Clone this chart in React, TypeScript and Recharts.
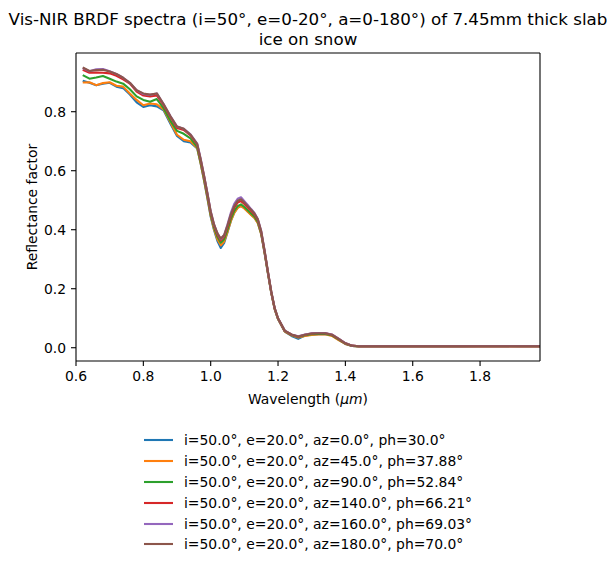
import { LineChart, Line, XAxis, YAxis, ReferenceLine } from "recharts";

const FONT = "'DejaVu Sans', sans-serif";

// wavelength in micrometres (finer sampling around the 1.03 um dip)
const wavelengths = [
  0.62, 0.64, 0.66, 0.68, 0.7, 0.72, 0.74, 0.76, 0.78, 0.8, 0.82, 0.84, 0.86, 0.88, 0.9, 0.92, 0.94,
  0.96, 0.97, 0.98, 0.99, 1.0, 1.01, 1.02, 1.03, 1.04, 1.05, 1.06, 1.07, 1.08, 1.09, 1.1, 1.11, 1.12,
  1.13, 1.14, 1.15, 1.16, 1.17, 1.18, 1.19, 1.2,
  1.22, 1.24, 1.26, 1.28, 1.3, 1.32, 1.34, 1.36, 1.38, 1.4, 1.42, 1.44,
  1.5, 1.56, 1.62, 1.68, 1.74, 1.8, 1.86, 1.92, 1.98,
];

const az0 = [
  0.905, 0.898, 0.89, 0.895, 0.898, 0.885, 0.88, 0.858, 0.832, 0.816, 0.822, 0.818, 0.805, 0.76, 0.718, 0.7, 0.696,
  0.675, 0.625, 0.568, 0.508, 0.444, 0.398, 0.362, 0.338, 0.355, 0.392, 0.43, 0.458, 0.475, 0.481, 0.473, 0.462, 0.451,
  0.441, 0.423, 0.386, 0.322, 0.252, 0.185, 0.131, 0.097,
  0.055, 0.04, 0.03, 0.041, 0.045, 0.046, 0.047, 0.042, 0.027, 0.013, 0.006, 0.004,
  0.004, 0.004, 0.004, 0.004, 0.004, 0.005, 0.006, 0.005, 0.005,
];
const az45 = [
  0.899, 0.9, 0.89, 0.897, 0.9, 0.888, 0.885, 0.862, 0.84, 0.822, 0.828, 0.825, 0.808, 0.765, 0.722, 0.705, 0.7,
  0.677, 0.626, 0.57, 0.51, 0.447, 0.402, 0.368, 0.347, 0.36, 0.393, 0.43, 0.457, 0.474, 0.48, 0.472, 0.461, 0.45,
  0.44, 0.422, 0.385, 0.322, 0.252, 0.185, 0.131, 0.097,
  0.055, 0.042, 0.035, 0.04, 0.043, 0.045, 0.046, 0.04, 0.026, 0.013, 0.006, 0.004,
  0.004, 0.004, 0.004, 0.004, 0.004, 0.004, 0.004, 0.004, 0.004,
];
const az90 = [
  0.924, 0.912, 0.916, 0.921, 0.912, 0.902, 0.895, 0.876, 0.852, 0.84, 0.834, 0.843, 0.812, 0.77, 0.735, 0.725, 0.71,
  0.68, 0.63, 0.575, 0.515, 0.452, 0.408, 0.376, 0.356, 0.368, 0.4, 0.437, 0.464, 0.48, 0.486, 0.477, 0.466, 0.455,
  0.444, 0.426, 0.388, 0.324, 0.254, 0.187, 0.132, 0.098,
  0.056, 0.043, 0.036, 0.042, 0.046, 0.047, 0.047, 0.042, 0.028, 0.014, 0.006, 0.005,
  0.005, 0.005, 0.005, 0.005, 0.005, 0.005, 0.005, 0.005, 0.005,
];
const az140 = [
  0.942, 0.932, 0.933, 0.932, 0.93, 0.922, 0.91, 0.895, 0.868, 0.855, 0.852, 0.855, 0.822, 0.782, 0.745, 0.738, 0.72,
  0.688, 0.637, 0.582, 0.522, 0.458, 0.414, 0.383, 0.364, 0.377, 0.41, 0.447, 0.475, 0.492, 0.497, 0.487, 0.475, 0.463,
  0.451, 0.432, 0.392, 0.327, 0.256, 0.188, 0.133, 0.099,
  0.057, 0.044, 0.037, 0.044, 0.048, 0.05, 0.049, 0.044, 0.03, 0.015, 0.007, 0.005,
  0.005, 0.005, 0.005, 0.005, 0.005, 0.005, 0.005, 0.005, 0.005,
];
const az160 = [
  0.948, 0.937, 0.944, 0.945, 0.937, 0.928, 0.915, 0.898, 0.873, 0.86, 0.857, 0.862, 0.826, 0.786, 0.75, 0.742, 0.723,
  0.692, 0.642, 0.586, 0.526, 0.463, 0.418, 0.388, 0.368, 0.382, 0.418, 0.458, 0.488, 0.505, 0.51, 0.497, 0.484, 0.47,
  0.457, 0.436, 0.396, 0.33, 0.258, 0.19, 0.135, 0.1,
  0.058, 0.045, 0.039, 0.045, 0.049, 0.05, 0.05, 0.045, 0.031, 0.016, 0.007, 0.005,
  0.005, 0.005, 0.005, 0.005, 0.005, 0.005, 0.005, 0.005, 0.005,
];
const az180 = [
  0.95, 0.938, 0.941, 0.942, 0.936, 0.928, 0.915, 0.898, 0.873, 0.862, 0.858, 0.862, 0.826, 0.785, 0.75, 0.742, 0.722,
  0.69, 0.64, 0.585, 0.525, 0.462, 0.418, 0.388, 0.37, 0.382, 0.415, 0.452, 0.48, 0.498, 0.503, 0.492, 0.48, 0.468,
  0.455, 0.435, 0.395, 0.33, 0.258, 0.19, 0.135, 0.1,
  0.058, 0.045, 0.038, 0.044, 0.048, 0.049, 0.049, 0.044, 0.03, 0.015, 0.007, 0.005,
  0.005, 0.005, 0.005, 0.005, 0.005, 0.005, 0.005, 0.005, 0.005,
];

const seriesNames = [
  "i=50.0°, e=20.0°, az=0.0°, ph=30.0°",
  "i=50.0°, e=20.0°, az=45.0°, ph=37.88°",
  "i=50.0°, e=20.0°, az=90.0°, ph=52.84°",
  "i=50.0°, e=20.0°, az=140.0°, ph=66.21°",
  "i=50.0°, e=20.0°, az=160.0°, ph=69.03°",
  "i=50.0°, e=20.0°, az=180.0°, ph=70.0°",
];
const seriesValues = [az0, az45, az90, az140, az160, az180];
const colors = ["#1f77b4", "#ff7f0e", "#2ca02c", "#d62728", "#9467bd", "#8c564b"];

const xTicks = [0.6, 0.8, 1.0, 1.2, 1.4, 1.6, 1.8];
const yTicks = [0, 0.2, 0.4, 0.6, 0.8];
const xDomain = [0.6, 1.978];
const yDomain = [-0.045, 0.999];

const data = wavelengths.map((wl, i) => {
  const row: Record<string, number> = { wl };
  seriesValues.forEach((s, k) => {
    row["s" + k] = s[i];
  });
  return row;
});

const tickStyle = { fontSize: 13.9, fill: "#000", fontFamily: FONT };
const axisStroke = { stroke: "#000", strokeWidth: 1.1 };

const XLabel = (props: any) => {
  const vb = props.viewBox || {};
  return (
    <text
      x={vb.x + vb.width / 2}
      y={vb.y + vb.height - 7}
      textAnchor="middle"
      fontSize={13.9}
      fontFamily={FONT}
      fill="#000"
    >
      Wavelength (<tspan fontStyle="italic">μm</tspan>)
    </text>
  );
};

export default function App() {
  return (
    <div style={{ position: "relative", width: 600, height: 553, fontFamily: FONT, color: "#000" }}>
      <div
        style={{
          position: "absolute",
          left: 0,
          top: 1,
          width: 600,
          textAlign: "center",
          fontSize: 16.7,
          lineHeight: "20px",
          whiteSpace: "nowrap",
        }}
      >
        Vis-NIR BRDF spectra (i=50°, e=0-20°, a=0-180°) of 7.45mm thick slab
        <br />
        ice on snow
      </div>
      <div style={{ position: "absolute", left: 0, top: 0 }}>
        <LineChart
          width={600}
          height={410}
          data={data}
          margin={{ top: 45, right: 68, bottom: 7, left: 0 }}
        >
          <XAxis
            dataKey="wl"
            type="number"
            domain={xDomain}
            ticks={xTicks}
            tickFormatter={(v: number) => v.toFixed(1)}
            tick={tickStyle}
            tickSize={5}
            tickMargin={5}
            height={50}
            axisLine={axisStroke}
            tickLine={axisStroke}
            allowDataOverflow
            label={<XLabel />}
          />
          <YAxis
            type="number"
            domain={yDomain}
            ticks={yTicks}
            tickFormatter={(v: number) => v.toFixed(1)}
            tick={tickStyle}
            tickSize={5}
            tickMargin={5}
            width={68}
            axisLine={axisStroke}
            tickLine={axisStroke}
            allowDataOverflow
            label={{
              value: "Reflectance factor",
              angle: -90,
              position: "insideLeft",
              offset: 24,
              style: { fontSize: 13.9, fill: "#000", fontFamily: FONT, textAnchor: "middle" },
            }}
          />
          {seriesNames.map((name, k) => (
            <Line
              key={name}
              dataKey={"s" + k}
              name={name}
              type="linear"
              stroke={colors[k]}
              strokeWidth={2.1}
              strokeLinejoin="round"
              dot={false}
              activeDot={false}
              isAnimationActive={false}
            />
          ))}
          {/* top and right spines of the axes box */}
          <ReferenceLine y={yDomain[1]} stroke="#000" strokeWidth={1.1} />
          <ReferenceLine x={xDomain[1]} stroke="#000" strokeWidth={1.1} />
        </LineChart>
      </div>
      <div style={{ position: "absolute", left: 136, top: 422 }}>
        {seriesNames.map((name, k) => (
          <div key={name} style={{ display: "flex", alignItems: "center", height: 20.8, fontSize: 13.9 }}>
            <svg width={29} height={4} style={{ marginRight: 11 }}>
              <line x1={0} y1={2} x2={29} y2={2} stroke={colors[k]} strokeWidth={2.1} />
            </svg>
            <span style={{ whiteSpace: "nowrap" }}>{name}</span>
          </div>
        ))}
      </div>
    </div>
  );
}
